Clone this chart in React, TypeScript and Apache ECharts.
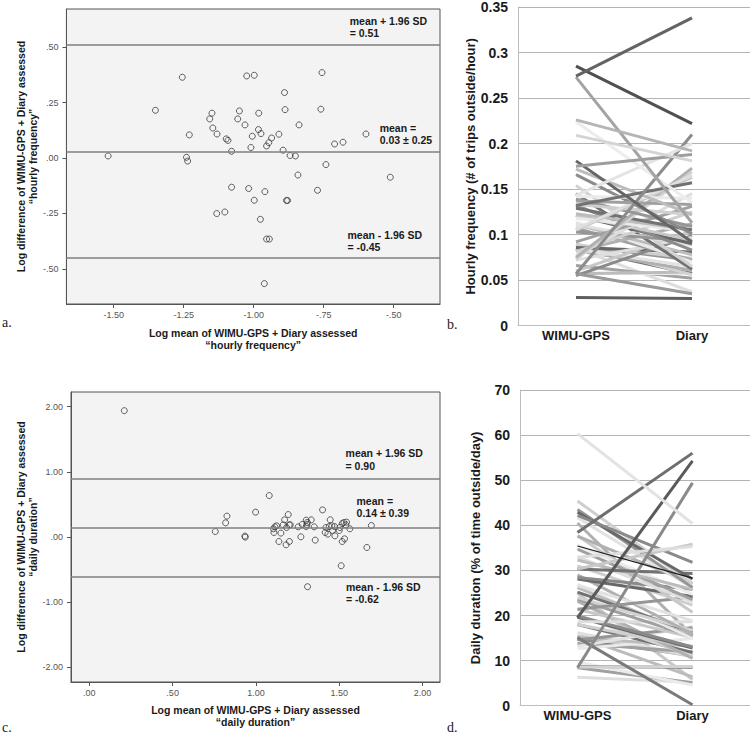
import React, { useEffect, useRef } from "react";
import * as echarts from "echarts";

// ---------- Panel a: Bland-Altman, hourly frequency (log mean, log difference)
const freqLogMean = [-1.520, -1.351, -1.255, -1.230, -1.240, -1.236, -1.157, -1.149, -1.146, -1.131, -1.098, -1.092, -1.079, -1.132, -1.103, -1.079, -1.057, -1.051, -1.031, -1.025, -0.998, -1.018, -1.005, -1.010, -0.998, -0.983, -0.982, -0.974, -0.976, -0.960, -0.954, -0.946, -0.936, -0.954, -0.944, -0.962, -0.910, -0.895, -0.890, -0.888, -0.883, -0.879, -0.870, -0.851, -0.838, -0.842, -0.772, -0.760, -0.756, -0.742, -0.711, -0.681, -0.599, -0.512];
const freqLogDiff = [0.009, 0.215, 0.364, 0.104, 0.003, -0.014, 0.176, 0.202, 0.135, 0.108, 0.086, 0.079, 0.030, -0.251, -0.244, -0.132, 0.176, 0.212, 0.149, 0.370, 0.373, -0.138, 0.098, 0.047, -0.191, 0.128, 0.202, 0.110, -0.277, -0.152, 0.054, 0.069, 0.090, -0.366, -0.366, -0.567, 0.107, 0.035, 0.295, 0.218, -0.192, -0.192, 0.011, 0.009, 0.149, -0.077, -0.146, 0.220, 0.385, -0.030, 0.063, 0.071, 0.108, -0.087];
const freqLimits = [0.51, 0.03, -0.45]; // upper, mean, lower
const freqSD = 0.25;
const freqXTicks = [-1.5, -1.25, -1.0, -0.75, -0.5];
const freqYTicks = [0.5, 0.25, 0.0, -0.25, -0.5];

// ---------- Panel b: hourly frequency per participant
const freqWimu = [0.031, 0.057, 0.085, 0.066, 0.058, 0.057, 0.085, 0.090, 0.083, 0.084, 0.088, 0.089, 0.086, 0.055, 0.060, 0.072, 0.107, 0.114, 0.111, 0.145, 0.154, 0.082, 0.111, 0.103, 0.081, 0.121, 0.132, 0.121, 0.077, 0.092, 0.118, 0.123, 0.129, 0.073, 0.075, 0.057, 0.139, 0.133, 0.181, 0.166, 0.105, 0.106, 0.137, 0.142, 0.172, 0.132, 0.143, 0.224, 0.273, 0.175, 0.209, 0.226, 0.285, 0.274];
const freqDiary = [0.030, 0.035, 0.037, 0.052, 0.057, 0.059, 0.057, 0.056, 0.061, 0.065, 0.072, 0.074, 0.081, 0.099, 0.104, 0.097, 0.072, 0.070, 0.078, 0.062, 0.065, 0.112, 0.088, 0.093, 0.125, 0.090, 0.083, 0.094, 0.145, 0.131, 0.104, 0.105, 0.105, 0.169, 0.173, 0.210, 0.109, 0.122, 0.092, 0.101, 0.163, 0.165, 0.133, 0.140, 0.122, 0.157, 0.200, 0.135, 0.113, 0.188, 0.181, 0.192, 0.222, 0.338];

// ---------- Panel c: Bland-Altman, daily duration
const durLogMean = [0.210, 1.080, 0.756, 0.818, 0.826, 0.998, 0.934, 0.936, 1.400, 1.310, 1.512, 1.666, 1.693, 1.106, 1.114, 1.124, 1.108, 1.138, 1.150, 1.164, 1.172, 1.194, 1.181, 1.201, 1.184, 1.200, 1.206, 1.254, 1.270, 1.278, 1.302, 1.308, 1.306, 1.302, 1.332, 1.350, 1.356, 1.420, 1.416, 1.432, 1.446, 1.440, 1.456, 1.472, 1.460, 1.474, 1.500, 1.504, 1.518, 1.528, 1.544, 1.540, 1.564, 1.518, 1.532];
const durLogDiff = [1.939, 0.634, 0.081, 0.215, 0.318, 0.379, 0.011, -0.005, 0.414, -0.767, -0.445, -0.164, 0.174, 0.123, 0.153, 0.169, 0.066, -0.072, 0.057, 0.184, 0.261, 0.342, -0.123, -0.072, 0.143, 0.184, 0.184, 0.153, 0.000, 0.189, 0.256, 0.220, 0.189, 0.158, 0.261, 0.153, -0.051, 0.143, 0.066, 0.041, 0.261, 0.158, 0.169, 0.158, 0.097, 0.015, 0.097, 0.143, 0.204, 0.220, 0.226, 0.184, 0.123, -0.072, -0.031];
const durLimits = [0.90, 0.14, -0.62];
const durSD = 0.39;
const durXTicks = [0, 0.5, 1.0, 1.5, 2.0];
const durYTicks = [2, 1, 0, -1, -2];

// ---------- Panel d: daily duration per participant (% of time outside/day)
const durWimu = [15.1, 25.0, 6.3, 8.4, 9.7, 15.4, 8.7, 8.6, 40.5, 8.4, 19.5, 38.4, 60.3, 14.7, 15.5, 16.2, 13.8, 12.6, 15.1, 18.0, 20.1, 23.2, 13.2, 14.6, 18.0, 19.6, 19.9, 21.4, 18.6, 23.6, 26.9, 26.2, 25.2, 24.0, 29.0, 26.7, 21.4, 31.0, 28.1, 28.4, 37.7, 33.0, 34.7, 35.6, 32.3, 30.3, 35.4, 37.6, 41.7, 43.5, 45.4, 42.9, 42.2, 30.3, 32.9];
const durDiary = [0.2, 5.8, 5.2, 5.1, 4.6, 6.4, 8.5, 8.7, 15.6, 49.4, 54.3, 56.0, 40.4, 11.1, 10.9, 11.0, 11.9, 14.9, 13.2, 11.8, 11.0, 10.5, 17.5, 17.3, 13.0, 12.8, 13.0, 15.1, 18.6, 15.3, 14.9, 15.8, 16.3, 16.7, 15.9, 18.8, 24.1, 22.3, 24.2, 25.8, 20.7, 23.0, 23.5, 24.7, 25.8, 29.3, 28.3, 27.1, 26.1, 26.2, 27.0, 28.1, 31.8, 35.8, 35.3];

const categories = ["WIMU-GPS", "Diary"];

// ---------- styles
const grayCycle = ["#8a8a8a", "#c8c8c8", "#dedede", "#a0a0a0", "#eaeaea", "#bcbcbc", "#727272", "#d2d2d2", "#b0b0b0", "#e2e2e2", "#969696", "#cfcfcf", "#686868"];
const freqColorOverride: Record<number, string> = { 0: "#5f5f5f", 1: "#9a9a9a", 35: "#8c8c8c", 38: "#666666", 46: "#e4e4e4", 47: "#ececec", 48: "#a3a3a3", 49: "#9e9e9e", 50: "#d4d4d4", 51: "#b5b5b5", 52: "#505050", 53: "#636363" };
const durColorOverride: Record<number, string> = { 0: "#7a7a7a", 9: "#8a8a8a", 10: "#5a5a5a", 11: "#6e6e6e", 12: "#e3e3e3", 46: "#1a1a1a" };

const FONT = "Arial, 'Liberation Sans', sans-serif";
const SERIF = "'Times New Roman', 'Liberation Serif', serif";

const spss = (v: number) => {
  const s = Number(v).toFixed(2);
  return s.replace(/^(-?)0\./, "$1.");
};

function scatterAxes(idx: number, xMin: number, xMax: number, yMin: number, yMax: number, xTicks: number[], yTicks: number[], xName: string, yName: string, xGap: number, yGap: number) {
  const axisCommon = {
    gridIndex: idx,
    type: "value" as const,
    axisLine: { show: true, onZero: false, lineStyle: { color: "#555", width: 1 } },
    splitLine: { show: false },
    nameLocation: "middle" as const,
    nameTextStyle: { fontSize: 10.5, fontWeight: "bold", color: "#1a1a1a", lineHeight: 12, fontFamily: FONT },
  };
  return {
    x: {
      ...axisCommon,
      min: xMin,
      max: xMax,
      axisTick: { show: true, customValues: xTicks, length: 4, lineStyle: { color: "#555" } },
      axisLabel: { customValues: xTicks, formatter: spss, fontSize: 9, color: "#555", margin: 6, fontFamily: FONT },
      name: xName,
      nameGap: xGap,
    },
    y: {
      ...axisCommon,
      min: yMin,
      max: yMax,
      axisTick: { show: true, customValues: yTicks, length: 4, lineStyle: { color: "#555" } },
      axisLabel: { customValues: yTicks, formatter: spss, fontSize: 9, color: "#555", margin: 8, fontFamily: FONT },
      name: yName,
      nameGap: yGap,
    },
  };
}

const annoLabel = {
  show: true,
  position: "inside",
  align: "left",
  verticalAlign: "middle",
  fontSize: 10.5,
  fontWeight: "bold",
  color: "#1a1a1a",
  lineHeight: 12.5,
  fontFamily: FONT,
};

function scatterSeries(idx: number, xs: number[], ys: number[], limits: number[], sd: number, anno: number[][]) {
  return {
    type: "scatter",
    xAxisIndex: idx,
    yAxisIndex: idx,
    data: xs.map((x, i) => [x, ys[i]]),
    symbol: "circle",
    symbolSize: 6,
    itemStyle: { color: "rgba(0,0,0,0)", borderColor: "#3a3a3a", borderWidth: 1 },
    silent: true,
    markLine: {
      silent: true,
      symbol: ["none", "none"],
      label: { show: false },
      lineStyle: { color: "#7f7f7f", width: 1.5, type: "solid" },
      data: limits.map((v) => ({ yAxis: v })),
    },
    markPoint: {
      silent: true,
      symbol: "circle",
      symbolSize: 0,
      label: annoLabel,
      data: [
        { coord: anno[0], label: { ...annoLabel, formatter: `mean + 1.96 SD\n= ${limits[0].toFixed(2)}` } },
        { coord: anno[1], label: { ...annoLabel, formatter: `mean =\n${limits[1].toFixed(2)} ± ${sd.toFixed(2)}` } },
        { coord: anno[2], label: { ...annoLabel, formatter: `mean - 1.96 SD\n= ${limits[2].toFixed(2)}` } },
      ],
    },
  };
}

function lineAxes(idx: number, max: number, interval: number, name: string, fmt: (v: number) => string) {
  return {
    x: {
      type: "category" as const,
      gridIndex: idx,
      data: categories,
      boundaryGap: true,
      axisLine: { show: true, lineStyle: { color: "#bdbdbd", width: 1 } },
      axisTick: { show: false },
      axisLabel: { fontSize: 13, fontWeight: "bold", color: "#1a1a1a", margin: 3, fontFamily: FONT },
    },
    y: {
      type: "value" as const,
      gridIndex: idx,
      min: 0,
      max,
      interval,
      axisLine: { show: true, lineStyle: { color: "#bdbdbd", width: 1 } },
      axisTick: { show: false },
      splitLine: { show: true, lineStyle: { color: "#b3b3b3", width: 1 } },
      axisLabel: { fontSize: 14, fontWeight: "bold", color: "#1a1a1a", margin: 10, fontFamily: FONT, formatter: fmt },
      name,
      nameLocation: "middle" as const,
      nameGap: 38,
      nameTextStyle: { fontSize: 13, fontWeight: "bold", color: "#1a1a1a", fontFamily: FONT },
    },
  };
}

function lineSeries(idx: number, a: number[], b: number[], overrides: Record<number, string>, thinIdx: number) {
  return a.map((v, i) => ({
    type: "line",
    xAxisIndex: idx,
    yAxisIndex: idx,
    data: [v, b[i]],
    symbol: "none",
    silent: true,
    z: overrides[i] ? 3 : 2,
    lineStyle: {
      width: i === thinIdx ? 1.2 : 3,
      color: overrides[i] || grayCycle[i % grayCycle.length],
    },
  }));
}

export default function App() {
  const ref = useRef<HTMLDivElement>(null);
  useEffect(() => {
    if (!ref.current) return;
    const chart = echarts.init(ref.current, null, { renderer: "svg" });

    const a = scatterAxes(0, -1.669, -0.3345, -0.659, 0.672, freqXTicks, freqYTicks,
      "Log mean of WIMU-GPS + Diary assessed\n“hourly frequency”",
      "Log difference of WIMU-GPS + Diary assessed\n“hourly frequency”", 23, 22);
    const c = scatterAxes(2, -0.11, 2.105, -2.232, 2.226, durXTicks, durYTicks,
      "Log mean of WIMU-GPS + Diary assessed\n“daily duration”",
      "Log difference of WIMU-GPS + Diary assessed\n“daily duration”", 22, 31);
    const b = lineAxes(1, 0.35, 0.05, "Hourly frequency (# of trips outside/hour)", (v: number) => String(Number(v.toFixed(2))));
    const d = lineAxes(3, 70, 10, "Daily duration (% of time outside/day)", (v: number) => String(v));

    chart.setOption({
      animation: false,
      textStyle: { fontFamily: FONT },
      grid: [
        { left: 63, top: 9, width: 377, height: 295, show: true, backgroundColor: "#f3f3f3", borderColor: "#555", borderWidth: 1 },
        { left: 518, top: 6.5, width: 232, height: 319.2 },
        { left: 71, top: 392, width: 369, height: 290, show: true, backgroundColor: "#f3f3f3", borderColor: "#555", borderWidth: 1 },
        { left: 520, top: 390, width: 231, height: 315.7 },
      ],
      xAxis: [a.x, b.x, c.x, d.x],
      yAxis: [a.y, b.y, c.y, d.y],
      series: [
        scatterSeries(0, freqLogMean, freqLogDiff, freqLimits, freqSD, [[-0.657, 0.590], [-0.550, 0.108], [-0.665, -0.375]]),
        ...lineSeries(1, freqWimu, freqDiary, freqColorOverride, -1),
        scatterSeries(2, durLogMean, durLogDiff, durLimits, durSD, [[1.538, 1.187], [1.604, 0.458], [1.540, -0.867]]),
        ...lineSeries(3, durWimu, durDiary, durColorOverride, 46),
      ],
      graphic: [
        { type: "text", left: 2, top: 315, style: { text: "a.", fontSize: 14, fontFamily: SERIF, fill: "#222" } },
        { type: "text", left: 447, top: 317, style: { text: "b.", fontSize: 14, fontFamily: SERIF, fill: "#222" } },
        { type: "text", left: 2, top: 720, style: { text: "c.", fontSize: 14, fontFamily: SERIF, fill: "#222" } },
        { type: "text", left: 447, top: 720, style: { text: "d.", fontSize: 14, fontFamily: SERIF, fill: "#222" } },
      ],
    });
    return () => chart.dispose();
  }, []);
  return <div ref={ref} style={{ position: "absolute", left: 0, top: 0, width: 750, height: 734, background: "#fff" }} />;
}
